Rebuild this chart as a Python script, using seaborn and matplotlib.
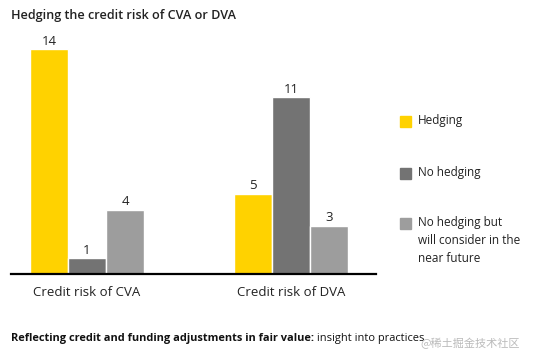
import pandas as pd
import matplotlib.pyplot as plt
import matplotlib.patches as mpatches
import seaborn as sns

# data
categories = ["Credit risk of CVA", "Credit risk of DVA"]
series = ["Hedging", "No hedging", "No hedging but will consider in the near future"]
hedging = [14, 5]
no_hedging = [1, 11]
will_consider = [4, 3]
legend_labels = ["Hedging", "No hedging", "No hedging but\nwill consider in the\nnear future"]
colors = ["#FFD200", "#737373", "#9D9D9D"]

df = pd.DataFrame({
    "category": categories * 3,
    "series": [series[0]] * 2 + [series[1]] * 2 + [series[2]] * 2,
    "value": hedging + no_hedging + will_consider,
})

sns.set_style("white")
plt.rcParams["font.family"] = ["Open Sans", "DejaVu Sans"]

fig = plt.figure(figsize=(5.35, 3.59), dpi=100)
ax = fig.add_axes([0.0206, 0.2368, 0.6822, 0.66])

sns.barplot(data=df, x="category", y="value", hue="series", hue_order=series,
            palette=colors, width=0.56, saturation=1, ax=ax, legend=False)

for cont in ax.containers:
    ax.bar_label(cont, padding=1, fontsize=9.5, color="#222222")

ax.set_xlim(-0.3725, 1.417)
ax.set_ylim(0, 14.75)
ax.set_xlabel("")
ax.set_ylabel("")
ax.set_yticks([])
ax.tick_params(axis="x", length=0, labelsize=9.5, pad=9, colors="#222222")
for s in ["top", "right", "left"]:
    ax.spines[s].set_visible(False)
ax.spines["bottom"].set_color("black")
ax.spines["bottom"].set_linewidth(1.6)

fig.text(11 / 535, 1 - 15 / 359, "Hedging the credit risk of CVA or DVA",
         fontsize=9.1, fontweight="semibold", color="#222222", va="center")

# legend drawn by hand so the swatch sits on the first line
leg_y = [121, 173, 223]
for lab, col, y in zip(legend_labels, colors, leg_y):
    fig.patches.append(mpatches.Rectangle((400 / 535, 1 - (y + 6) / 359), 11 / 535, 11 / 359,
                                          transform=fig.transFigure, color=col))
    fig.text(418 / 535, 1 - (y - 7) / 359, lab, fontsize=8.5, color="#222222",
             va="top", linespacing=1.5)

foot = fig.text(11 / 535, 1 - 339 / 359,
                "Reflecting credit and funding adjustments in fair value:",
                fontsize=7.9, fontweight="bold", color="#111111", va="center")
ax.annotate(" insight into practices", xy=(1, 0.5), xycoords=foot,
            fontsize=7.9, color="#111111", va="center", ha="left",
            annotation_clip=False)
fig.text(420 / 535, 1 - 343 / 359, "@稀土掘金技术社区", fontsize=8, color="#BBBBBB",
         va="center", family=["Noto Sans CJK SC", "DejaVu Sans"])

fig.savefig("out.png", dpi=100)
